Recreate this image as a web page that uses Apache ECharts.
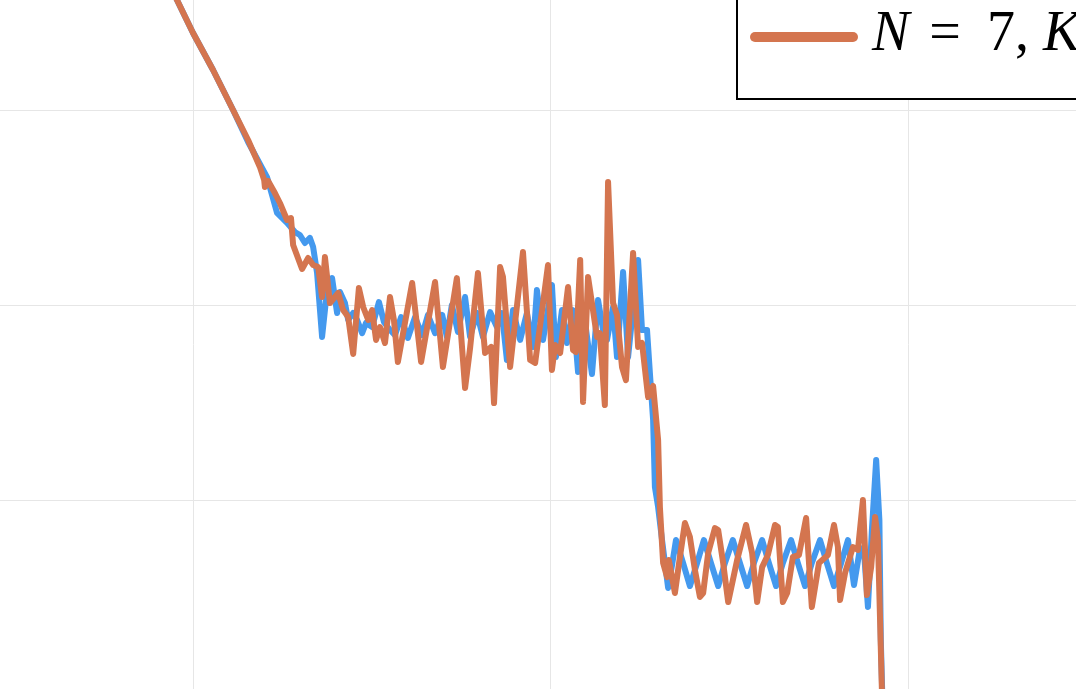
<!DOCTYPE html>
<html>
<head>
<meta charset="utf-8">
<script src="https://cdn.jsdelivr.net/npm/echarts/dist/echarts.min.js"></script>
<style>
html, body { margin: 0; padding: 0; background: #fff; }
#main { width: 1076px; height: 689px; }
</style>
</head>
<body>
<div id="main"></div>
<script>
var seriesNames = ['N = 5, K = 3', 'N = 7, K = 3'];
var seriesColors = ['#4499EE', '#D4754F'];

var blueX = [0.936,1.000,1.056,1.112,1.154,1.193,1.207,1.221,1.235,1.263,
    1.285,1.299,1.313,1.327,1.336,1.347,1.361,1.375,1.389,1.403,
    1.411,1.425,1.434,1.448,1.459,1.473,1.484,1.501,1.520,1.534,
    1.551,1.565,1.582,1.601,1.621,1.641,1.657,1.677,1.697,1.710,
    1.724,1.741,1.761,1.775,1.794,1.811,1.831,1.850,1.864,1.878,
    1.895,1.915,1.934,1.951,1.962,1.979,2.004,2.015,2.032,2.046,
    2.063,2.077,2.096,2.116,2.133,2.147,2.158,2.175,2.186,2.203,
    2.217,2.245,2.256,2.270,2.278,2.287,2.292,2.301,2.312,2.329,
    2.340,2.351,2.371,2.390,2.410,2.429,2.449,2.469,2.488,2.510,
    2.530,2.550,2.569,2.592,2.611,2.631,2.650,2.673,2.692,2.712,
    2.731,2.754,2.773,2.793,2.813,2.832,
    2.849,2.866,2.877,2.888,2.899,2.911,2.920,2.924,2.930];
var blueY = [0.636,0.395,0.205,0,-0.164,-0.297,-0.344,-0.436,-0.528,-0.579,
    -0.626,-0.641,-0.682,-0.656,-0.703,-0.836,-1.164,-0.923,-0.862,-1.041,
    -0.933,-0.990,-1.077,-1.041,-1.077,-1.144,-1.092,-1.113,-0.985,-1.087,
    -1.128,-1.154,-1.062,-1.169,-1.062,-1.154,-1.051,-1.144,-1.051,-1.164,
    -1.000,-1.138,-0.959,-1.164,-1.041,-1.164,-1.036,-1.113,-1.041,-1.282,
    -1.026,-1.179,-1.041,-1.215,-0.923,-1.179,-0.897,-1.267,-1.026,-1.195,
    -1.026,-1.344,-1.077,-1.354,-0.974,-1.128,-1.179,-1.010,-1.267,-0.831,
    -1.267,-0.769,-1.128,-1.128,-1.349,-1.590,-1.933,-2.036,-2.205,-2.451,
    -2.333,-2.205,-2.323,-2.441,-2.323,-2.205,-2.323,-2.441,-2.323,-2.205,
    -2.323,-2.441,-2.323,-2.205,-2.323,-2.441,-2.323,-2.205,-2.323,-2.441,
    -2.323,-2.205,-2.323,-2.441,-2.323,-2.205,
    -2.436,-2.246,-2.267,-2.549,-2.154,-1.795,-2.103,-2.718,-3.128];

var orangeX = [0.936,1.000,1.056,1.112,1.154,1.187,1.199,1.201,1.210,1.229,
    1.243,1.263,1.274,1.280,1.305,1.322,1.336,1.350,1.361,1.369,
    1.383,1.406,1.420,1.434,1.448,1.464,1.476,1.490,1.501,1.512,
    1.523,1.537,1.551,1.562,1.573,1.613,1.638,1.677,1.699,1.738,
    1.761,1.775,1.797,1.817,1.834,1.842,1.859,1.867,1.887,1.923,
    1.943,1.957,1.993,2.004,2.013,2.027,2.049,2.063,2.071,2.083,
    2.091,2.105,2.130,2.138,2.152,2.161,2.175,2.186,2.200,2.211,
    2.231,2.245,2.256,2.273,2.287,2.301,2.306,2.315,2.326,2.331,
    2.348,2.362,2.376,2.390,2.404,2.418,2.427,2.441,2.460,2.469,
    2.483,2.497,2.522,2.547,2.564,2.578,2.592,2.608,2.628,2.636,
    2.650,2.662,2.678,2.695,2.715,2.731,2.751,2.776,2.793,2.804,
    2.810,2.824,2.846,2.860,2.874,2.885,2.897,2.908,2.916,2.927,2.933];
var orangeY = [0.636,0.395,0.205,0,-0.154,-0.292,-0.359,-0.395,-0.364,-0.426,
    -0.477,-0.564,-0.554,-0.692,-0.815,-0.759,-0.795,-0.805,-0.959,-0.754,
    -0.990,-0.938,-1.026,-1.062,-1.251,-0.913,-1.010,-1.077,-1.026,-1.179,
    -1.113,-1.195,-0.959,-1.077,-1.292,-0.887,-1.292,-0.882,-1.318,-0.862,
    -1.426,-1.221,-0.836,-1.246,-1.215,-1.503,-0.805,-0.856,-1.318,-0.728,
    -1.282,-1.297,-0.795,-1.333,-1.205,-1.246,-0.908,-1.231,-1.241,-0.769,
    -1.497,-0.856,-1.164,-1.144,-1.513,-0.369,-0.990,-1.051,-1.318,-1.385,
    -0.733,-1.215,-1.195,-1.472,-1.415,-1.692,-2.036,-2.323,-2.395,-2.308,
    -2.477,-2.292,-2.118,-2.190,-2.359,-2.497,-2.477,-2.272,-2.144,-2.154,
    -2.323,-2.523,-2.308,-2.128,-2.272,-2.523,-2.344,-2.282,-2.128,-2.138,
    -2.523,-2.477,-2.292,-2.282,-2.092,-2.549,-2.323,-2.282,-2.128,-2.241,
    -2.513,-2.374,-2.241,-2.256,-2.000,-2.487,-2.344,-2.087,-2.205,-2.974,-3.333];

function pairs(xs, ys) {
    var out = [];
    for (let i = 0; i < Math.min(xs.length, ys.length); i++) {
        out.push([xs[i], ys[i]]);
    }
    return out;
}

// math-style label: italic letters, spaced "=", upright digits
function mathLabel(name) {
    var s = name.replace(/ = /g, '=');
    var out = '{g|}';
    for (let i = 0; i < s.length; i++) {
        var c = s[i];
        if (/[A-Za-z]/.test(c)) out += '{i|' + c + '}';
        else if (c === '=') out += '{s|=}';
        else out += '{r|' + c + '}';
    }
    return out;
}

var gridLine = {
    show: true,
    showMinLine: false,
    showMaxLine: false,
    lineStyle: { color: '#e6e6e6', width: 1 }
};

var txt = { fontFamily: 'Liberation Serif', fontSize: 56, color: '#000', padding: [0, 0, 4, 0] };

var chart = echarts.init(document.getElementById('main'));
chart.setOption({
    animation: false,
    backgroundColor: '#fff',
    grid: { left: 0, right: 0, top: 0, bottom: 0 },
    legend: {
        orient: 'vertical',
        left: 737,
        top: -62,
        data: seriesNames,
        backgroundColor: '#fff',
        borderColor: '#000',
        borderWidth: 2,
        borderRadius: 0,
        padding: [10, 20, 34, 13],
        itemWidth: 108,
        itemHeight: 10,
        itemGap: 1,
        icon: 'path://M5 0 H103 A5 5 0 0 1 103 10 H5 A5 5 0 0 1 5 0 Z',
        formatter: mathLabel,
        textStyle: {
            color: '#000',
            fontFamily: 'Liberation Serif',
            fontSize: 56,
            rich: {
                g: { width: 9 },
                i: Object.assign({ fontStyle: 'italic' }, txt),
                r: Object.assign({}, txt),
                s: Object.assign({}, txt, { padding: [0, 26, 4, 20] })
            }
        }
    },
    xAxis: {
        type: 'value',
        min: 0.46,
        max: 3.47,
        splitNumber: 3,
        minInterval: 1,
        maxInterval: 1,
        axisLine: { show: false },
        axisTick: { show: false },
        axisLabel: { show: false },
        splitLine: gridLine
    },
    yAxis: {
        type: 'value',
        min: -2.969,
        max: 0.564,
        splitNumber: 3,
        minInterval: 1,
        maxInterval: 1,
        axisLine: { show: false },
        axisTick: { show: false },
        axisLabel: { show: false },
        splitLine: gridLine
    },
    series: [{
        name: seriesNames[0],
        type: 'line',
        data: pairs(blueX, blueY),
        showSymbol: false,
        symbol: 'none',
        color: seriesColors[0],
        lineStyle: { width: 6, cap: 'round', join: 'round' }
    }, {
        name: seriesNames[1],
        type: 'line',
        data: pairs(orangeX, orangeY),
        showSymbol: false,
        symbol: 'none',
        color: seriesColors[1],
        lineStyle: { width: 6, cap: 'round', join: 'round' }
    }]
});
</script>
</body>
</html>
